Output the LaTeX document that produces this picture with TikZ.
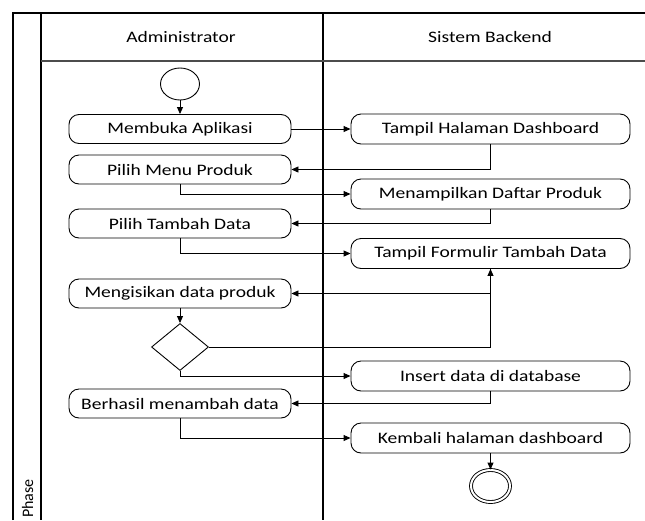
\documentclass[tikz,border=0pt]{standalone}
\usepackage{fontspec}
\setmainfont{Carlito}[FakeStretch=1.22]
\newfontfamily\phasefont{Carlito}
\usetikzlibrary{arrows.meta,shapes.geometric}

\tikzset{
  lbl/.style={font=\fontsize{16}{19}\selectfont},
  act/.style={draw, lbl, rounded corners=10pt, inner sep=0pt, line width=0.9pt},
  leftact/.style={act, minimum width=222pt, minimum height=29pt},
  rightact/.style={act, minimum width=279pt, minimum height=30pt},
  flow/.style={line width=0.9pt, -{Triangle[length=7pt,width=6pt]}},
  frameline/.style={line width=1.2pt},
  startnode/.style={draw, ellipse, line width=0.9pt, minimum width=39pt, minimum height=32pt, inner sep=0pt},
  endnode/.style={draw, ellipse, line width=0.9pt, minimum width=39pt, minimum height=32pt, inner sep=0pt,
    double, double distance=2pt},
  decision/.style={draw, diamond, line width=0.9pt, minimum width=57pt, minimum height=47pt, inner sep=0pt},
}

\begin{document}
\begin{tikzpicture}[x=1pt, y=-1pt]
  \useasboundingbox (0,0) rectangle (645,520);

  % swimlane frame
  \draw[frameline] (13,520) -- (13,13) -- (645,13);
  \draw[frameline] (41,13) -- (41,520);
  \draw[frameline] (323,13) -- (323,520);
  \draw[line width=1.3pt, black!70] (41,61) -- (645,61);

  \node[lbl] (laneA) at (181,37) {Administrator};
  \node[lbl] (laneB) at (490,37) {Sistem Backend};
  \node[font=\phasefont\fontsize{16}{19}\selectfont, rotate=90, anchor=base west, inner sep=0pt]
    (phase) at (33,518) {Phase};

  % administrator activities
  \node[startnode] (start) at (180,84) {};
  \node[leftact] (m1) at (180,129) {Membuka Aplikasi};
  \node[leftact] (m2) at (180,169.5) {Pilih Menu Produk};
  \node[leftact] (m3) at (180,223.5) {Pilih Tambah Data};
  \node[leftact] (m4) at (180,293.5) {Mengisikan data produk};
  \node[decision] (d) at (180,347) {};
  \node[leftact] (m5) at (180,403.5) {Berhasil menambah data};

  % backend activities
  \node[rightact] (t1) at (490.5,129) {Tampil Halaman Dashboard};
  \node[rightact] (t2) at (490.5,194) {Menampilkan Daftar Produk};
  \node[rightact] (t3) at (490.5,253.5) {Tampil Formulir Tambah Data};
  \node[rightact] (t4) at (490.5,376) {Insert data di database};
  \node[rightact] (t5) at (490.5,438) {Kembali halaman dashboard};
  \node[endnode] (stop) at (490.5,486) {};

  % control flow
  \draw[flow] (start) -- (m1);
  \draw[flow] (m1) -- (t1);
  \draw[flow] (t1.south) |- (m2.east);
  \draw[flow] (m2.south) |- (t2.west);
  \draw[flow] (t2.south) |- (m3.east);
  \draw[flow] (m3.south) |- (t3.west);
  \draw[flow] (t3.south) |- (m4.east);
  \draw[flow] (m4) -- (d);
  \draw[flow] (d.east) -| (t3.south);
  \draw[flow] (d.south) |- (t4.west);
  \draw[flow] (t4.south) |- (m5.east);
  \draw[flow] (m5.south) |- (t5.west);
  \draw[flow] (t5) -- (stop);
\end{tikzpicture}
\end{document}
